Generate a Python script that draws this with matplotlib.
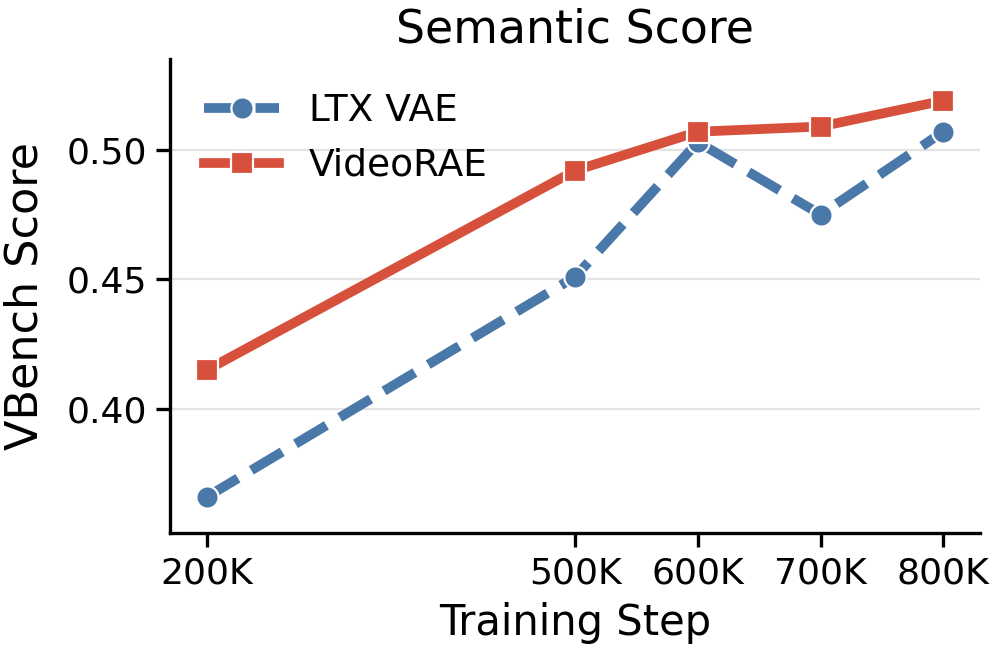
import matplotlib
matplotlib.use("Agg")
import matplotlib.pyplot as plt

# data
steps = [200, 500, 600, 700, 800]
step_labels = ["200K", "500K", "600K", "700K", "800K"]
ltx_vae = [0.366, 0.451, 0.503, 0.475, 0.507]
video_rae = [0.415, 0.492, 0.507, 0.509, 0.519]

blue = "#4A78A8"
red = "#D6503B"

fig, ax = plt.subplots(figsize=(4.95, 3.29), dpi=200)
fig.subplots_adjust(left=0.172, right=0.99, bottom=0.19, top=0.91)

ax.plot(steps, ltx_vae, color=blue, linestyle="--", linewidth=3.5,
        marker="o", markersize=8, markeredgecolor="white", markeredgewidth=0.8,
        label="LTX VAE")
ax.plot(steps, video_rae, color=red, linestyle="-", linewidth=3.5,
        marker="s", markersize=8, markeredgecolor="white", markeredgewidth=0.8,
        label="VideoRAE")

ax.set_xticks(steps)
ax.set_xticklabels(step_labels)
ax.set_yticks([0.40, 0.45, 0.50])
ax.set_yticklabels(["0.40", "0.45", "0.50"])
ax.set_ylim(0.352, 0.535)
ax.tick_params(labelsize=13, width=1.2, length=5)

ax.grid(axis="y", color="#e3e3e3", linewidth=0.8)
ax.set_axisbelow(True)
for s in ["top", "right"]:
    ax.spines[s].set_visible(False)
for s in ["left", "bottom"]:
    ax.spines[s].set_linewidth(1.2)

ax.set_xlabel("Training Step", fontsize=15)
ax.set_ylabel("VBench Score", fontsize=16, labelpad=7)
ax.set_title("Semantic Score", fontsize=16.5)
ax.legend(loc="upper left", frameon=False, fontsize=13.5, handlelength=2.0)

fig.savefig("out.png", dpi=200)
